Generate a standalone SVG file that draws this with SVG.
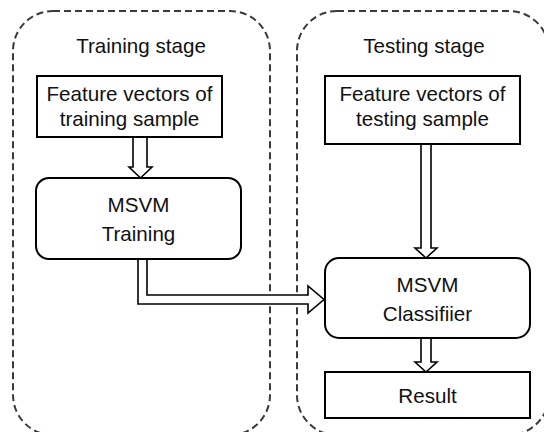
<svg xmlns="http://www.w3.org/2000/svg" width="544" height="432" viewBox="0 0 544 432">
<style>
.stage{fill:none;stroke:#3a3a3a;stroke-width:2;stroke-dasharray:7,4}
.box{fill:#fff;stroke:#000;stroke-width:2}
.arr{fill:#fff;stroke:#000;stroke-width:1.6;stroke-linejoin:miter}
text{font-family:"Liberation Sans",Arial,sans-serif;font-size:20.6px;fill:#111;text-anchor:middle}
</style>
<rect width="544" height="432" fill="#fff"/>
<g id="training-stage">
<rect class="stage" x="13" y="11" width="257" height="424" rx="40" ry="40"/>
<text x="141" y="53">Training stage</text>
</g>
<g id="testing-stage">
<rect class="stage" x="297" y="11" width="252" height="424" rx="40" ry="40"/>
<text x="424" y="53">Testing stage</text>
</g>
<g id="connectors">
<path class="arr" d="M133,137 V167 H129 L140.5,178 L152,167 H147 V137"/>
<path class="arr" d="M138,259 V304 H308 V313 L324,299.5 L308,286 V295 H147 V259"/>
<path class="arr" d="M421,144 V248 H415 L426,258 L437,248 H431 V144"/>
<path class="arr" d="M421,338 V362 H415 L426,372 L437,362 H431 V338"/>
</g>
<g id="train-features">
<rect class="box" x="37" y="76" width="185" height="61"/>
<text x="129.5" y="101">Feature vectors of</text>
<text x="129.5" y="126">training sample</text>
</g>
<g id="msvm-training">
<rect class="box" x="36" y="178" width="205" height="81" rx="13" ry="13"/>
<text x="138.5" y="212">MSVM</text>
<text x="138.5" y="241">Training</text>
</g>
<g id="test-features">
<rect class="box" x="325" y="76" width="195" height="68"/>
<text x="422.5" y="101">Feature vectors of</text>
<text x="422.5" y="126">testing sample</text>
</g>
<g id="msvm-classifier">
<rect class="box" x="325" y="258" width="205" height="80" rx="14" ry="14"/>
<text x="427.5" y="292">MSVM</text>
<text x="427.5" y="321">Classifiier</text>
</g>
<g id="result">
<rect class="box" x="325" y="372" width="205" height="46"/>
<text x="427.5" y="403">Result</text>
</g>
</svg>
